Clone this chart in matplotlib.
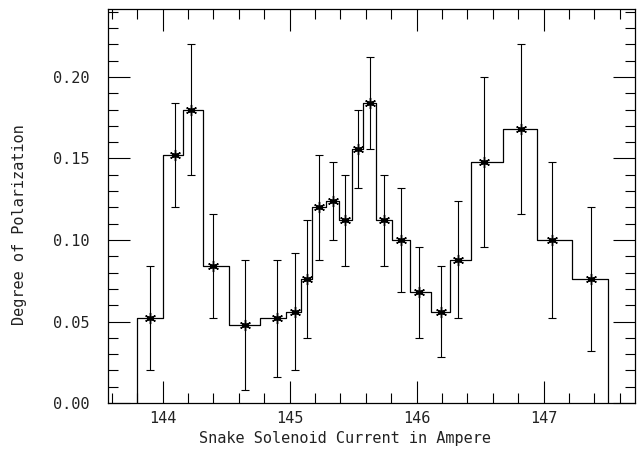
import matplotlib

matplotlib.use("Agg")
import matplotlib.pyplot as plt
import matplotlib.ticker as mticker

plt.rcParams["font.family"] = "DejaVu Sans Mono"

# bin edges of the step histogram (Ampere)
edges = [143.8, 144.0, 144.16, 144.32, 144.52, 144.77, 144.97, 145.09, 145.18,
         145.29, 145.39, 145.49, 145.58, 145.68, 145.81, 145.95, 146.11, 146.26,
         146.43, 146.68, 146.95, 147.22, 147.51]
# measured points
current = [143.90, 144.10, 144.22, 144.40, 144.65, 144.90, 145.045, 145.14,
           145.23, 145.34, 145.44, 145.535, 145.633, 145.74, 145.88, 146.02,
           146.19, 146.33, 146.53, 146.825, 147.07, 147.37]
polarization = [0.052, 0.152, 0.180, 0.084, 0.048, 0.052, 0.056, 0.076,
                0.120, 0.124, 0.112, 0.156, 0.184, 0.112, 0.100, 0.068,
                0.056, 0.088, 0.148, 0.168, 0.100, 0.076]
err_low = [0.020, 0.120, 0.140, 0.052, 0.008, 0.016, 0.020, 0.040,
           0.088, 0.100, 0.084, 0.132, 0.156, 0.084, 0.068, 0.040,
           0.028, 0.052, 0.096, 0.116, 0.052, 0.032]
err_high = [0.084, 0.184, 0.220, 0.116, 0.088, 0.088, 0.092, 0.112,
            0.152, 0.148, 0.140, 0.180, 0.212, 0.140, 0.132, 0.096,
            0.084, 0.124, 0.200, 0.220, 0.148, 0.120]

TEXT = "#222222"

fig = plt.figure(figsize=(6.37, 4.49), dpi=100)
ax = fig.add_axes([0.1695, 0.1024, 0.8274, 0.8776])

# histogram outline, dropping to zero at both ends
ax.step(edges + [edges[-1]], [0] + polarization + [0], where="pre",
        color="black", linewidth=0.9)

yerr = [[p - lo for p, lo in zip(polarization, err_low)],
        [hi - p for p, hi in zip(polarization, err_high)]]
ax.errorbar(current, polarization, yerr=yerr, fmt="none", ecolor="black",
            elinewidth=0.8, capsize=3, capthick=0.8)
ax.plot(current, polarization, linestyle="none", marker=(6, 2, 0),
        markersize=8, markeredgewidth=1.0, color="black")
ax.plot(current, polarization, linestyle="none", marker="o",
        markersize=2.5, color="black")

ax.set_xlim(143.57, 147.72)
ax.set_ylim(0, 0.2417)
ax.xaxis.set_major_locator(mticker.MultipleLocator(1))
ax.xaxis.set_minor_locator(mticker.MultipleLocator(0.2))
ax.yaxis.set_major_locator(mticker.MultipleLocator(0.05))
ax.yaxis.set_minor_locator(mticker.MultipleLocator(0.01))
ax.yaxis.set_major_formatter(mticker.FormatStrFormatter("%.2f"))
ax.tick_params(which="both", direction="in", top=True, right=True,
               labelsize=11, labelcolor=TEXT, width=0.8)
ax.tick_params(axis="x", pad=6)
ax.tick_params(axis="y", pad=13)
ax.tick_params(which="major", length=16)
ax.tick_params(which="minor", length=7)
for s in ax.spines.values():
    s.set_linewidth(0.9)

# axis titles sit a little off-centre in the original
fig.text(344.5 / 637, 1 - 438 / 449, "Snake Solenoid Current in Ampere",
         fontsize=11, color=TEXT, ha="center", va="center")
fig.text(20 / 637, 1 - 225 / 449, "Degree of Polarization",
         fontsize=11, color=TEXT, ha="center", va="center", rotation=90)

fig.savefig("out.png", dpi=100)
